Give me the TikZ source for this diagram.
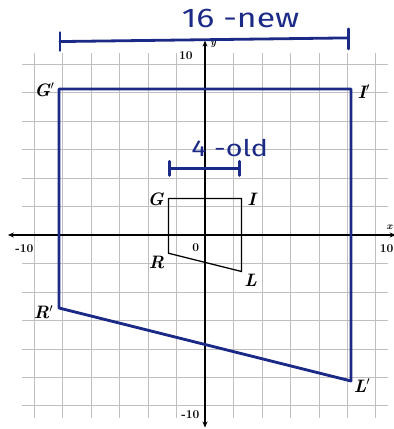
\documentclass[tikz,border=0pt]{standalone}
\usepackage{fontspec}
\newfontfamily\handfont{Fira Sans}
\usetikzlibrary{arrows.meta}
\definecolor{pen}{RGB}{28,42,135}
\begin{document}
\begin{tikzpicture}[x=18.25pt,y=18.25pt,
  gridline/.style={draw=gray!50,line width=0.6pt},
  axisline/.style={draw=black,line width=1.4pt,-{Stealth[length=6pt,width=5pt]}},
  oldshape/.style={draw=black,line width=1.3pt,line join=miter},
  newshape/.style={draw=pen,line width=2.8pt,line join=round},
  bracketline/.style={draw=pen,line width=2.8pt,line cap=round},
  vlabel/.style={font=\fontsize{18}{18}\selectfont\bfseries\itshape,inner sep=0pt},
  ticklabel/.style={font=\fontsize{12}{12}\selectfont\bfseries,inner sep=0pt},
  handtext/.style={font=\handfont\fontsize{27}{27}\selectfont,text=pen,inner sep=0pt,xscale=1.25}]
\useasboundingbox (-11.233,-10.630) rectangle (10.356,12.877);
% grid
\draw[gridline] (-10,-10) grid (10,10);
% axes
\coordinate (xl) at (-10.8,0);
\coordinate (xr) at (10.45,0);
\coordinate (yb) at (0,-10.55);
\coordinate (yt) at (0,10.65);
\draw[axisline] (0,0) -- (xl);
\draw[axisline] (0,0) -- (xr);
\draw[axisline] (0,0) -- (yb);
\draw[axisline] (0,0) -- (yt);
\node[font=\fontsize{10}{10}\selectfont\bfseries\itshape,inner sep=0pt] (ylab) at (0.45,10.45) {y};
\node[font=\fontsize{10}{10}\selectfont\bfseries\itshape,inner sep=0pt] (xlab) at (10.1,0.4) {x};
\node[ticklabel] (t1) at (-1.05,9.85) {10};
\node[ticklabel] (t2) at (-0.8,-9.85) {-10};
\node[ticklabel] (t3) at (-9.9,-0.75) {-10};
\node[ticklabel] (t4) at (9.95,-0.75) {10};
\node[ticklabel] (t0) at (-0.5,-0.7) {0};
% old figure
\coordinate (G) at (-2,2);
\coordinate (I) at (2,2);
\coordinate (L) at (2,-2);
\coordinate (R) at (-2,-1);
\draw[oldshape] (G) -- (I) -- (L) -- (R) -- cycle;
\node[vlabel] (Gl) at (-2.7,1.97) {G};
\node[vlabel] (Il) at (2.55,1.97) {I};
\node[vlabel] (Rl) at (-2.65,-1.5) {R};
\node[vlabel] (Ll) at (2.5,-2.5) {L};
% new figure
\coordinate (G2) at (-8,8);
\coordinate (I2) at (8,8);
\coordinate (L2) at (8,-8);
\coordinate (R2) at (-8,-4);
\draw[newshape] (G2) -- (I2) -- (L2) -- (R2) -- cycle;
\node[vlabel] (G2l) at (-8.8,7.95) {G$'$};
\node[vlabel] (I2l) at (8.7,7.85) {I$'$};
\node[vlabel] (R2l) at (-8.85,-4.25) {R$'$};
\node[vlabel] (L2l) at (8.6,-8.25) {L$'$};
% new bracket
\coordinate (nb1) at (-7.95,10.6);
\coordinate (nb2) at (7.85,10.8);
\draw[bracketline] (nb1) -- (nb2);
\draw[bracketline] ([yshift=-9pt]nb1) -- ([yshift=9pt]nb1);
\draw[bracketline] ([yshift=-11pt]nb2) -- ([yshift=9pt]nb2);
\node[handtext] (newtxt) at (1.95,11.85) {16 -new};
% old bracket
\coordinate (ob1) at (-1.95,3.65);
\coordinate (ob2) at (1.9,3.65);
\draw[bracketline] (ob1) -- (ob2);
\draw[bracketline] ([yshift=-7pt]ob1) -- ([yshift=7pt]ob1);
\draw[bracketline] ([yshift=-7pt]ob2) -- ([yshift=7pt]ob2);
\node[handtext,font=\handfont\fontsize{23}{23}\selectfont] (oldtxt) at (1.35,4.75) {4 -old};
\end{tikzpicture}
\end{document}
